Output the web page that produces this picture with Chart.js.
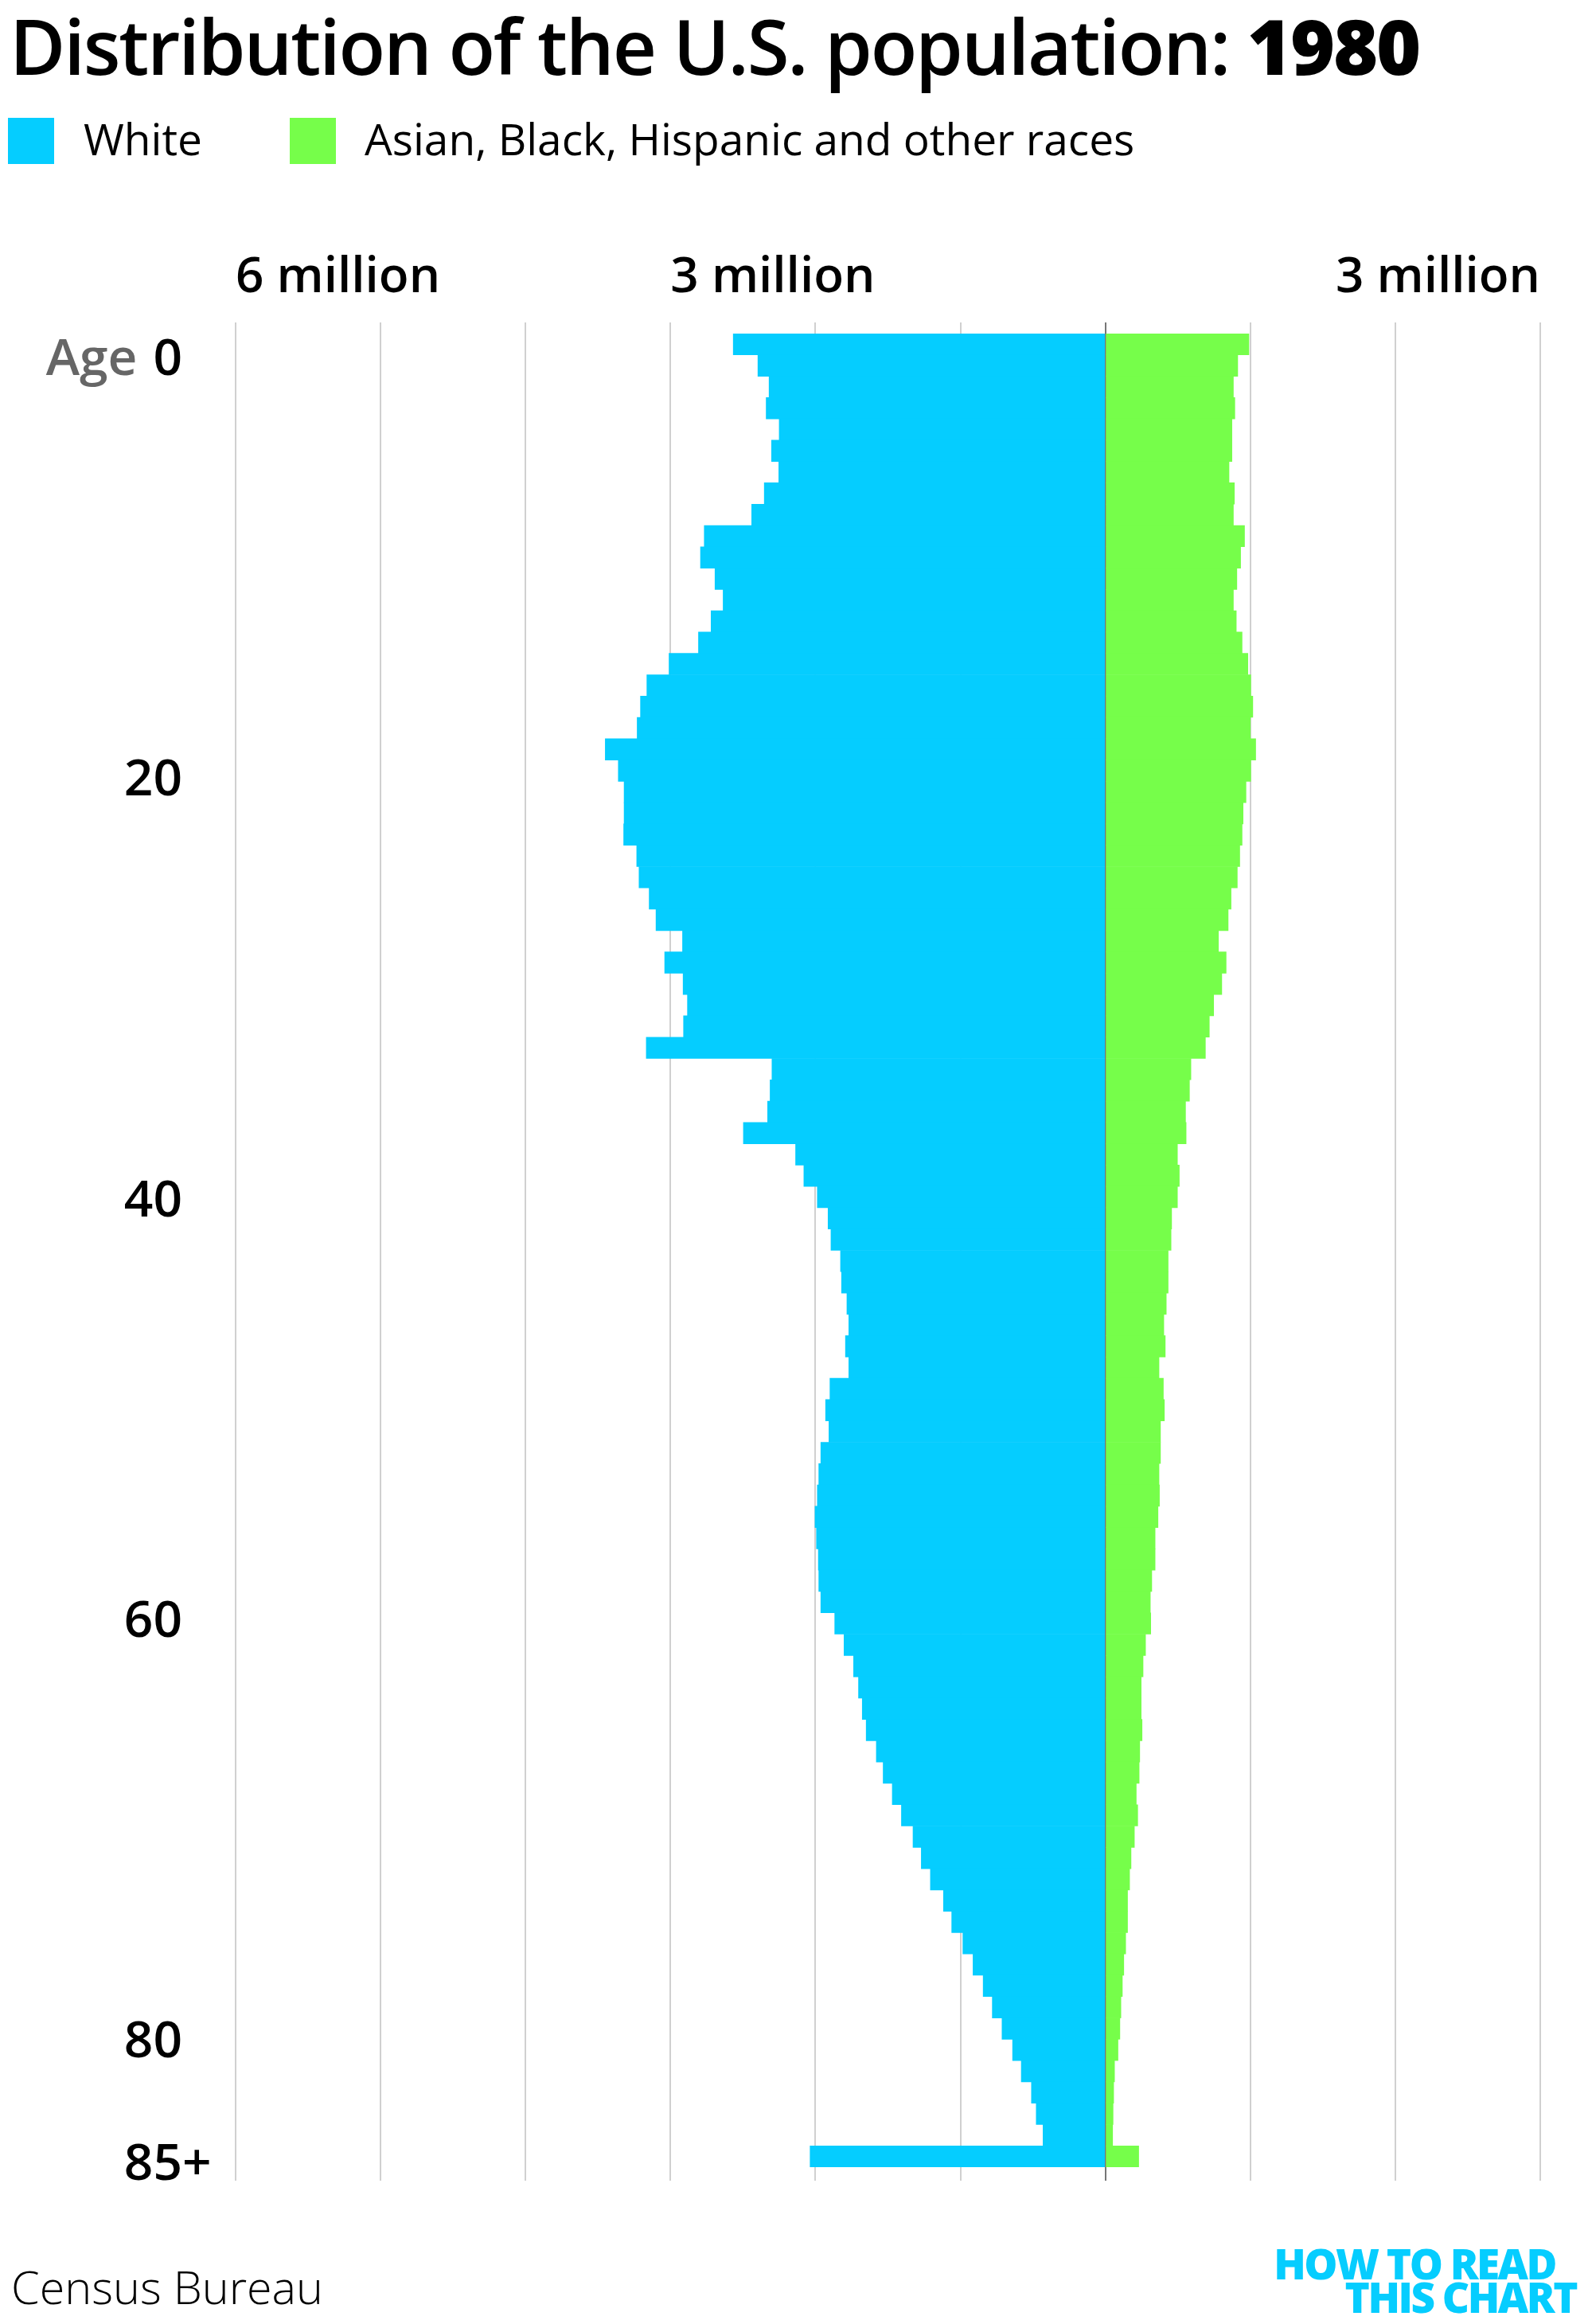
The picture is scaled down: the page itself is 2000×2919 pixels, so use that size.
<!DOCTYPE html>
<html>
<head>
<meta charset="utf-8">
<script src="https://cdn.jsdelivr.net/npm/chart.js@4.4.0/dist/chart.umd.min.js"></script>
<style>
body { margin: 0; background: #fff; font-family: "Open Sans", sans-serif; }
#wrap { position: relative; width: 2000px; height: 2919px; overflow: hidden; }
#pyramid { position: absolute; left: 0; top: 0; }
.txt { position: absolute; white-space: nowrap; line-height: 1; color: #000; }
.title { left: 12px; top: 9px; font-size: 96px; font-weight: 600; letter-spacing: -2.2px; }
.title b { font-weight: 800; }
.sw { position: absolute; width: 58px; height: 58px; }
.leg { top: 146px; font-size: 55px; font-weight: 500; }
.source { left: 14px; top: 2844px; font-size: 57.5px; font-weight: 300; }
.logo { font-size: 53px; font-weight: 800; color: #05cdff; letter-spacing: -2.5px; text-align: right; }
</style>
</head>
<body>
<div id="wrap">
  <canvas id="pyramid" width="2000" height="2919"></canvas>
  <div class="txt title">Distribution of the U.S. population: <b>1980</b></div>
  <div class="sw" style="left:10px;top:148px;background:#05cdff"></div>
  <div class="txt leg" style="left:105px">White</div>
  <div class="sw" style="left:364px;top:148px;background:#76fe4a"></div>
  <div class="txt leg" style="left:458px">Asian, Black, Hispanic and other races</div>
  <div class="txt source">Census Bureau</div>
  <div class="txt logo" style="right:46px;top:2816px">HOW TO READ</div>
  <div class="txt logo" style="right:20px;top:2858px">THIS CHART</div>
</div>
<script>
// ages 0..84 and 85+
var ages = ['0','1','2','3','4','5','6','7','8','9',
  '10','11','12','13','14','15','16','17','18','19',
  '20','21','22','23','24','25','26','27','28','29',
  '30','31','32','33','34','35','36','37','38','39',
  '40','41','42','43','44','45','46','47','48','49',
  '50','51','52','53','54','55','56','57','58','59',
  '60','61','62','63','64','65','66','67','68','69',
  '70','71','72','73','74','75','76','77','78','79',
  '80','81','82','83','84','85+'];

// millions of people
var white = [2.567, 2.397, 2.32, 2.34, 2.25, 2.303, 2.253, 2.353, 2.44, 2.767,
  2.793, 2.693, 2.637, 2.72, 2.807, 3.01, 3.163, 3.207, 3.23, 3.45,
  3.36, 3.32, 3.32, 3.323, 3.233, 3.217, 3.147, 3.10, 2.917, 3.04,
  2.913, 2.883, 2.91, 3.167, 2.30, 2.313, 2.33, 2.497, 2.137, 2.08,
  1.987, 1.913, 1.893, 1.827, 1.82, 1.783, 1.77, 1.793, 1.77, 1.90,
  1.93, 1.907, 1.963, 1.977, 1.987, 2.003, 1.993, 1.98, 1.977, 1.963,
  1.867, 1.803, 1.737, 1.703, 1.677, 1.65, 1.58, 1.533, 1.47, 1.407,
  1.327, 1.27, 1.207, 1.117, 1.06, 0.983, 0.913, 0.843, 0.78, 0.713,
  0.64, 0.58, 0.51, 0.477, 0.43, 2.037];

var other = [0.99, 0.913, 0.883, 0.893, 0.873, 0.873, 0.853, 0.89, 0.883, 0.96,
  0.933, 0.907, 0.883, 0.903, 0.943, 0.983, 1.003, 1.017, 1.0, 1.037,
  1.003, 0.97, 0.95, 0.943, 0.927, 0.91, 0.867, 0.847, 0.78, 0.833,
  0.803, 0.747, 0.717, 0.69, 0.59, 0.58, 0.553, 0.557, 0.497, 0.51,
  0.497, 0.457, 0.453, 0.433, 0.433, 0.42, 0.403, 0.413, 0.37, 0.40,
  0.407, 0.38, 0.38, 0.37, 0.373, 0.363, 0.343, 0.343, 0.32, 0.31,
  0.313, 0.277, 0.26, 0.247, 0.247, 0.253, 0.237, 0.233, 0.213, 0.223,
  0.20, 0.177, 0.167, 0.153, 0.153, 0.14, 0.127, 0.117, 0.107, 0.10,
  0.087, 0.063, 0.057, 0.053, 0.05, 0.23];

var xTickValues = [-6, -3, 3];
var xTickLabels = ['6 million', '3 million', '3 million'];
var yTickLabels = ['0', '20', '40', '60', '80', '85+'];

var blue = '#05cdff', green = '#76fe4a';

function gridColor(c) {
  return c.tick && c.tick.value === 0 ? '#777' : '#d0d0d0';
}

// axis texts, placed from the scales
var axisText = {
  id: 'axisText',
  afterDraw: function (chart) {
    var c = chart.ctx, sx = chart.scales.x, sy = chart.scales.y, area = chart.chartArea;
    c.save();
    c.textBaseline = 'alphabetic';
    c.fillStyle = '#000';
    c.font = '600 62px "Open Sans"';
    xTickValues.forEach(function (v, i) {
      c.textAlign = v < 0 ? 'left' : 'right';
      c.fillText(xTickLabels[i], sx.getPixelForValue(v), area.top - 52);
    });
    c.font = '600 64px "Open Sans"';
    var rx = area.left - 67;
    var y0 = sy.getPixelForValue(0);
    yTickLabels.forEach(function (lab) {
      var idx = ages.indexOf(lab);
      var yy;
      if (lab.indexOf('+') > -1) {
        yy = sy.getPixelForValue(idx) + 5 + 24;
      } else {
        // labels sit on a slightly tighter spacing than the rows
        yy = y0 + 15 + (sy.getPixelForValue(idx) - y0) * 0.986 + 24;
      }
      var num = lab.replace('+', '');
      c.fillStyle = '#000';
      c.textAlign = 'right';
      c.fillText(num, rx, yy);
      if (lab.indexOf('+') > -1) {
        c.textAlign = 'left';
        c.fillText('+', rx, yy);
      }
      if (lab === '0') {
        var w = c.measureText(num).width;
        c.fillStyle = '#666';
        c.textAlign = 'right';
        c.fillText('Age', rx - w - 20, yy);
      }
    });
    c.restore();
  }
};

var ctx = document.getElementById('pyramid');
var chart = new Chart(ctx, {
  type: 'bar',
  data: {
    labels: ages,
    datasets: [
      { label: 'White', data: white.map(function (v) { return -v; }), backgroundColor: blue },
      { label: 'Asian, Black, Hispanic and other races', data: other, backgroundColor: green }
    ]
  },
  options: {
    indexAxis: 'y',
    responsive: false,
    animation: false,
    layout: { padding: { left: 296, right: 65, top: 405, bottom: 180 } },
    datasets: { bar: { barPercentage: 1, categoryPercentage: 1, borderWidth: 0 } },
    plugins: { legend: { display: false }, tooltip: { enabled: false } },
    scales: {
      x: {
        type: 'linear', position: 'top', min: -6, max: 3, stacked: true,
        ticks: { display: false, stepSize: 1 },
        grid: { color: gridColor, lineWidth: 2, tickLength: 14 },
        border: { display: false }
      },
      x2: {
        type: 'linear', position: 'bottom', min: -6, max: 3,
        ticks: { display: false, stepSize: 1 },
        grid: { drawOnChartArea: false, color: gridColor, lineWidth: 2, tickLength: 17 },
        border: { display: false }
      },
      y: { type: 'category', stacked: true, display: false }
    }
  },
  plugins: [axisText]
});
</script>
</body>
</html>
